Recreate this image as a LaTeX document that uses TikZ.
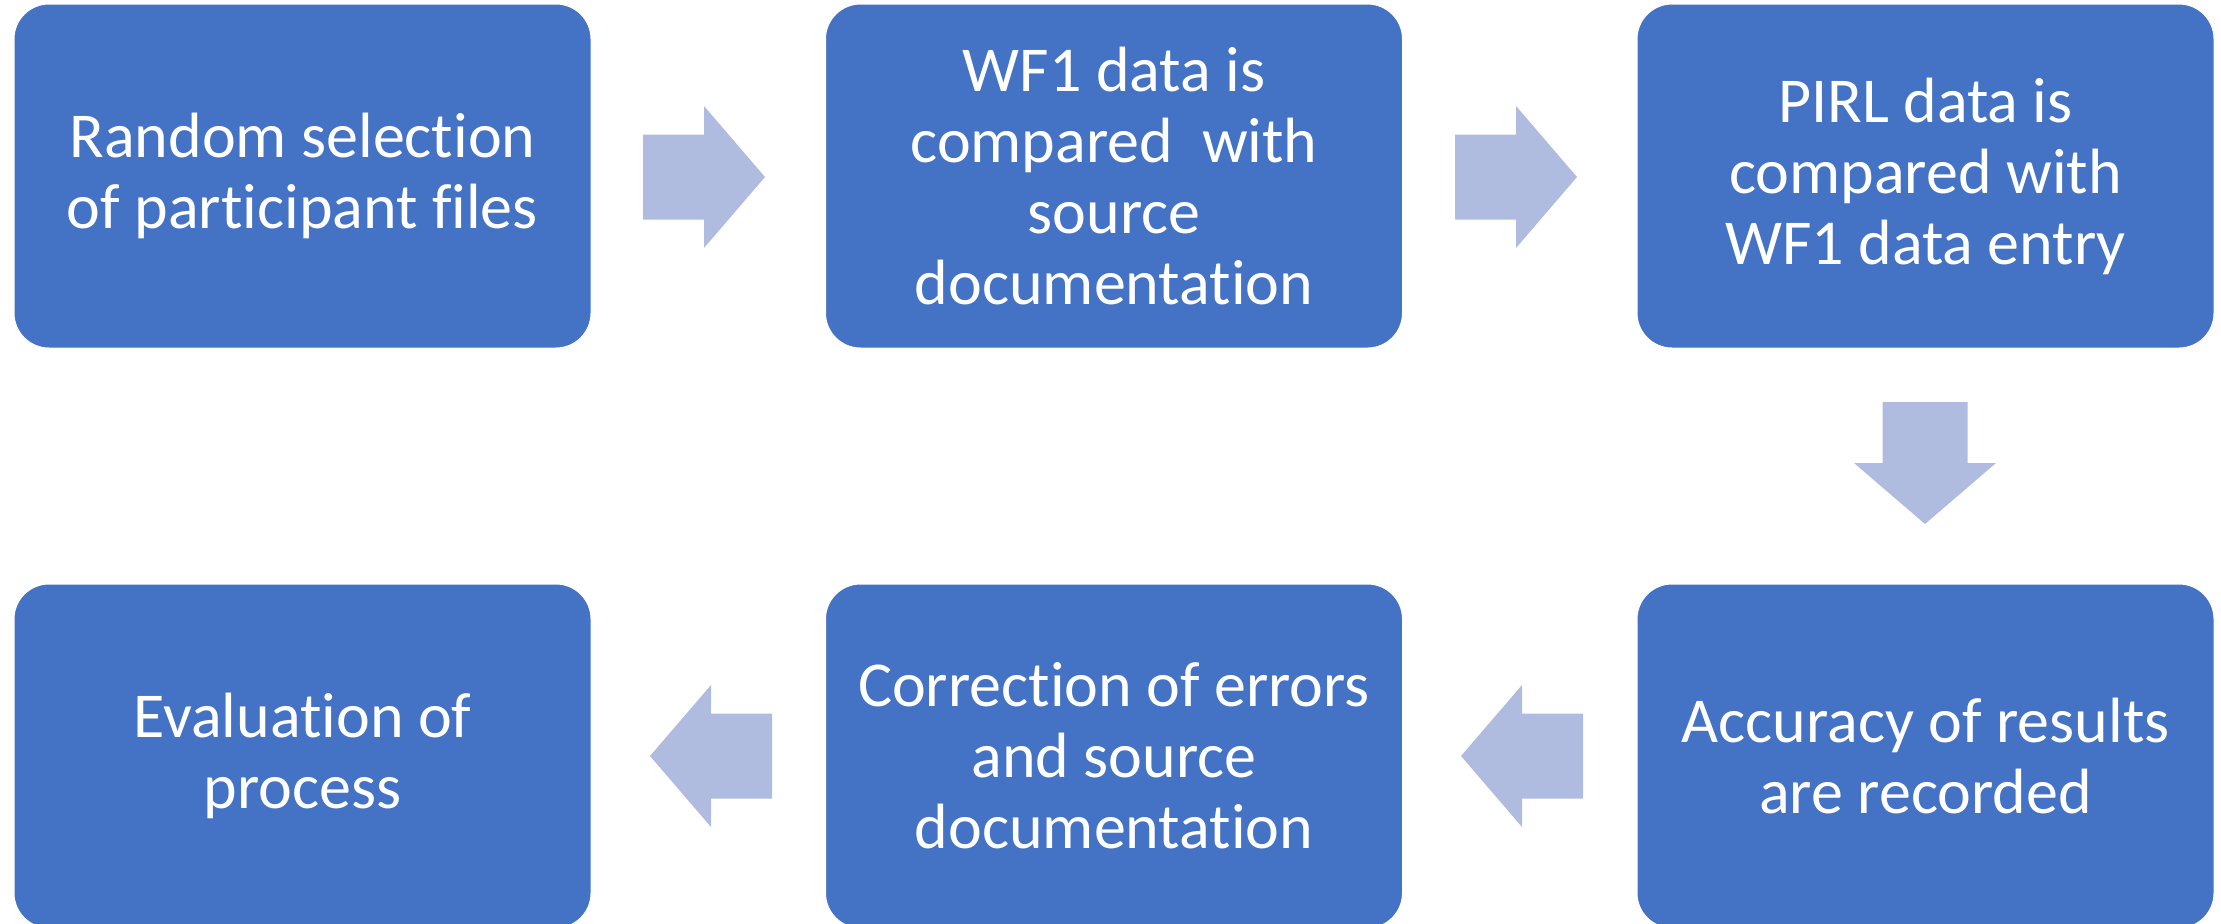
\documentclass[tikz,border=0pt]{standalone}
\usepackage{fontspec}
\setmainfont[Ligatures=NoCommon]{Carlito}
\begin{document}
\begin{tikzpicture}[x=0.5pt,y=-0.5pt]
\definecolor{boxc}{HTML}{4472C4}
\definecolor{arrowc}{HTML}{AFBCDF}
\tikzset{
  stepbox/.style={fill=boxc, draw=white, line width=0.5pt, rounded corners=17.5pt,
    minimum width=288.5pt, minimum height=172pt, inner sep=0pt,
    text=white, align=center, font=\fontsize{32}{35.5}\selectfont},
  barrow/.pic={\fill[arrowc] (-61,-42.5) -- (0,-42.5) -- (0,-71) -- (61,0) -- (0,71) -- (0,42.5) -- (-61,42.5) -- cycle;}
}
\useasboundingbox (0,0) rectangle (2221,923);
\clip (0,0) rectangle (2221,923);
\node[stepbox] (b1) at (302.5,176) {Random selection\\of participant files};
\node[stepbox] (b2) at (1114,176) {WF1 data is\\compared~ with\\source\\documentation};
\node[stepbox] (b3) at (1925.5,176) {PIRL data is\\compared with\\WF1 data entry};
\node[stepbox] (b4) at (1925.5,756) {Accuracy of results\\are recorded};
\node[stepbox] (b5) at (1114,756) {Correction of errors\\and source\\documentation};
\node[stepbox] (b6) at (302.5,756) {Evaluation of\\process};
\pic at (704,177) {barrow};
\pic at (1516,177) {barrow};
\pic[rotate=-90] at (1925,463) {barrow};
\pic[rotate=180] at (1522,756) {barrow};
\pic[rotate=180] at (711,756) {barrow};
\end{tikzpicture}
\end{document}
